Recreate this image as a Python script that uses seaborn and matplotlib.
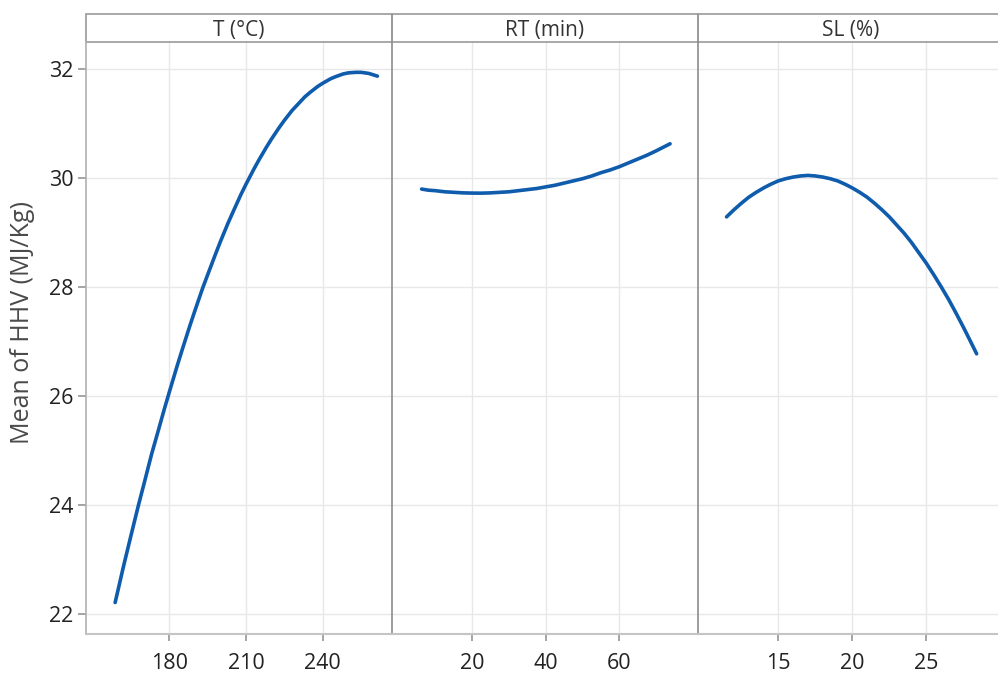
import pandas as pd
import matplotlib.pyplot as plt
import seaborn as sns
from matplotlib.patches import Rectangle

# valores (curvas de efeito principal)
t_vals = [158.8, 162, 165, 168, 170, 173, 175, 178, 180, 183, 185, 188, 190,
          193, 195, 198, 200, 203, 205, 208, 210, 213, 215, 218, 220, 223,
          225, 228, 230, 233, 235, 238, 240, 243, 245, 248, 250, 253, 255,
          258, 261.4]
t_hhv = [22.21, 22.86, 23.44, 24.01, 24.37, 24.92, 25.25, 25.75, 26.07, 26.54,
         26.84, 27.28, 27.56, 27.97, 28.22, 28.59, 28.83, 29.17, 29.38, 29.69,
         29.88, 30.15, 30.32, 30.56, 30.71, 30.92, 31.05, 31.23, 31.33, 31.48,
         31.56, 31.67, 31.73, 31.81, 31.85, 31.90, 31.92, 31.93, 31.93, 31.91,
         31.86]

rt_vals = [6.2, 8, 10, 12.5, 15, 17.5, 20, 22.5, 25, 27.5, 30, 32.5, 35, 37.5,
           40, 42.5, 45, 47.5, 50, 52.5, 55, 57.5, 60, 62.5, 65, 67.5, 70, 73.8]
rt_hhv = [29.79, 29.77, 29.76, 29.74, 29.73, 29.72, 29.716, 29.715, 29.72,
          29.73, 29.74, 29.76, 29.78, 29.80, 29.83, 29.86, 29.90, 29.94,
          29.98, 30.03, 30.09, 30.14, 30.20, 30.27, 30.34, 30.41, 30.49, 30.62]

sl_vals = [11.5, 12, 12.5, 13, 13.5, 14, 14.5, 15, 15.5, 16, 16.5, 17, 17.5,
           18, 18.5, 19, 19.5, 20, 20.5, 21, 21.5, 22, 22.5, 23, 23.5, 24,
           24.5, 25, 25.5, 26, 26.5, 27, 27.5, 28, 28.4]
sl_hhv = [29.28, 29.41, 29.53, 29.64, 29.73, 29.81, 29.88, 29.94, 29.98,
          30.01, 30.03, 30.04, 30.03, 30.01, 29.98, 29.94, 29.88, 29.81,
          29.73, 29.64, 29.53, 29.41, 29.28, 29.13, 28.98, 28.81, 28.62,
          28.43, 28.22, 28.00, 27.77, 27.52, 27.26, 26.99, 26.77]

fatores = ['T (°C)', 'RT (min)', 'SL (%)']
xticks = [[180, 210, 240], [20, 40, 60], [15, 20, 25]]
xlims = [(147.4, 267.1), (-1.85, 81.4), (9.57, 30.25)]
yticks = [22, 24, 26, 28, 30, 32]

df = pd.concat([
    pd.DataFrame({'fator': fatores[0], 'x': t_vals, 'hhv': t_hhv}),
    pd.DataFrame({'fator': fatores[1], 'x': rt_vals, 'hhv': rt_hhv}),
    pd.DataFrame({'fator': fatores[2], 'x': sl_vals, 'hhv': sl_hhv}),
])

sns.set_theme(style='white')
plt.rcParams['font.family'] = ['Open Sans', 'DejaVu Sans']

fig, axes = plt.subplots(1, 3, sharey=True, figsize=(9.98, 6.73), dpi=100)
fig.subplots_adjust(left=86/998, right=1004/998, bottom=1 - 634/673,
                    top=1 - 42/673, wspace=0)

strip_h = 28 / 592
for i, ax in enumerate(axes):
    sub = df[df['fator'] == fatores[i]]
    sns.lineplot(data=sub, x='x', y='hhv', ax=ax, color='#0f5cad', lw=2.6)
    ax.set_xlim(xlims[i])
    ax.set_ylim(21.633, 32.486)
    ax.set_xticks(xticks[i])
    ax.set_yticks(yticks)
    ax.grid(True, color='#e8e8e8', lw=1)
    ax.set_axisbelow(True)
    ax.set_xlabel('')
    ax.set_ylabel('')
    ax.tick_params(axis='x', bottom=True, length=5, color='#999999',
                   labelsize=15.5, labelcolor='#222222', pad=9)
    ax.tick_params(axis='y', left=(i == 0), length=6, color='#999999',
                   labelsize=15.5, labelcolor='#222222', pad=3)
    for s in ['top', 'right']:
        ax.spines[s].set_visible(False)
    ax.spines['bottom'].set_color('#c4c4c4')
    ax.spines['bottom'].set_linewidth(1.5)
    ax.spines['left'].set_color('#b0b0b0' if i == 0 else '#8c8c8c')
    ax.spines['left'].set_linewidth(1.2)
    # faixa do título
    ax.add_patch(Rectangle((0, 1), 1, strip_h, transform=ax.transAxes,
                           fill=False, edgecolor='#999999', lw=1.2,
                           clip_on=False))
    ax.text(0.5, 1 + strip_h * 0.4, fatores[i], transform=ax.transAxes,
            ha='center', va='center', fontsize=15, color='#333333')

axes[0].set_ylabel('Mean of HHV (MJ/Kg)', fontsize=18, color='#4a4a4a')
axes[0].yaxis.set_label_coords(-0.168, 0.527)

plt.savefig('out.png', dpi=100)
